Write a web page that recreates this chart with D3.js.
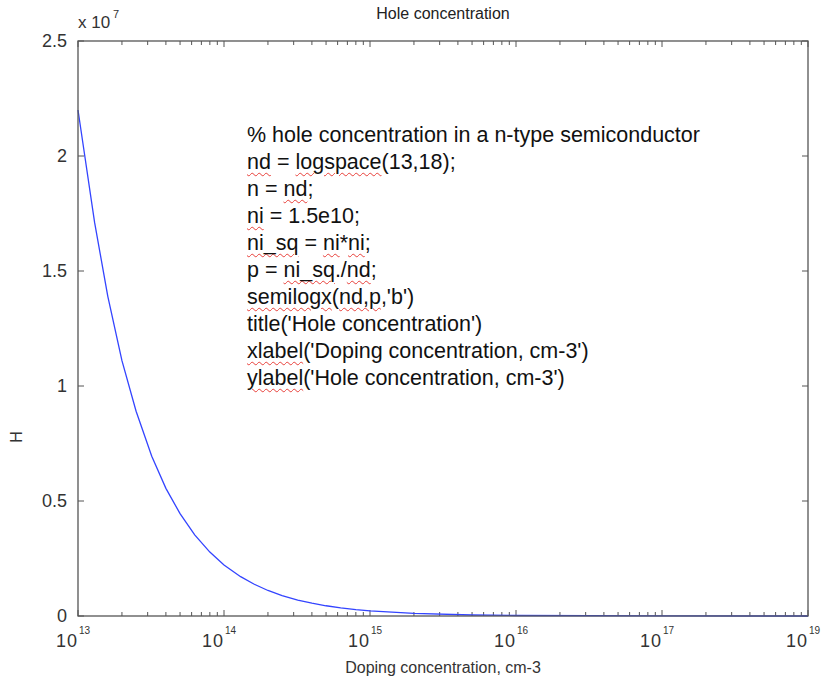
<!DOCTYPE html>
<html>
<head>
<meta charset="utf-8">
<script src="https://cdn.jsdelivr.net/npm/d3@7"></script>
<style>
  body { margin: 0; background: #fff; }
  #wrap { position: relative; width: 825px; height: 688px; }
  svg { position: absolute; left: 0; top: 0; font-family: "Liberation Sans", Arial, sans-serif; }
  #code {
    position: absolute; left: 247px; top: 122px;
    font-family: "Liberation Sans", Arial, sans-serif;
    font-size: 21.5px; line-height: 27px; color: #111; white-space: pre;
  }
  #code .sp { text-decoration: underline wavy #e8403a; text-decoration-thickness: 1px; text-underline-offset: 3px; }
</style>
</head>
<body>
<div id="wrap">
<svg id="chart"></svg>
<div id="code"></div>
</div>
<script>
const outerWidth = 825;
const outerHeight = 688;
const margin = { top: 41, right: 17, bottom: 72, left: 78 };
const width = outerWidth - margin.left - margin.right;
const height = outerHeight - margin.top - margin.bottom;

// values (doping, cm-3 -> holes, cm-3)
const dopingValues = [1e13, 1.3e13, 1.6e13, 2e13, 2.5e13, 3.2e13, 4e13, 5e13, 6.3e13, 8e13,
    1e14, 1.3e14, 1.6e14, 2e14, 2.5e14, 3.2e14, 4e14, 5e14, 6.3e14, 8e14,
    1e15, 2e15, 5e15, 1e16, 1e17, 1e18];
const holeValues = [2.2e7, 1.71e7, 1.39e7, 1.11e7, 8.9e6, 6.95e6, 5.55e6, 4.45e6, 3.53e6, 2.78e6,
    2.22e6, 1.71e6, 1.39e6, 1.11e6, 8.9e5, 6.95e5, 5.55e5, 4.45e5, 3.55e5, 2.78e5,
    2.22e5, 1.1e5, 4.4e4, 2.2e4, 2.0e3, 2.0e2];

const xDecades = [1e13, 1e14, 1e15, 1e16, 1e17, 1e18];
const xTickExponents = ["13", "14", "15", "16", "17", "19"];
const yTicks = [0, 0.5e7, 1e7, 1.5e7, 2e7, 2.5e7];
const yTickLabels = ["0", "0.5", "1", "1.5", "2", "2.5"];

const codeLines = [
    [["% hole concentration in a n-type semiconductor", 0]],
    [["nd", 1], [" = ", 0], ["logspace", 1], ["(13,18);", 0]],
    [["n = ", 0], ["nd", 1], [";", 0]],
    [["ni", 1], [" = 1.5e10;", 0]],
    [["ni_sq", 1], [" = ", 0], ["ni", 1], ["*", 0], ["ni", 1], [";", 0]],
    [["p = ", 0], ["ni_sq", 1], ["./", 0], ["nd", 1], [";", 0]],
    [["semilogx", 1], ["(", 0], ["nd,p", 1], [",'b')", 0]],
    [["title('Hole concentration')", 0]],
    [["xlabel", 1], ["('Doping concentration, cm-3')", 0]],
    [["ylabel", 1], ["('Hole concentration, cm-3')", 0]]
];

const data = dopingValues.map((d, i) => ({ nd: d, p: holeValues[i] }));

const svg0 = d3.select("#chart")
    .attr("width", outerWidth)
    .attr("height", outerHeight);

const svg = svg0.append("g")
    .attr("transform", `translate(${margin.left},${margin.top})`);

const x = d3.scaleLog().domain([1e13, 1e18]).range([0, width]);
const y = d3.scaleLinear().domain([0, 2.5e7]).range([height, 0]);

const axisColor = "#555";
const textColor = "#333";

// minor ticks 2..9 per decade
const minorTicks = [];
xDecades.slice(0, -1).forEach(d => {
    for (let k = 2; k <= 9; k++) minorTicks.push(d * k);
});

// ticks, inward, on bottom and top
const ticks = svg.append("g").attr("stroke", axisColor).attr("stroke-width", 1);
[height, 0].forEach(base => {
    const dir = base === 0 ? 1 : -1;
    ticks.selectAll(null).data(xDecades).enter().append("line")
        .attr("x1", d => x(d)).attr("x2", d => x(d))
        .attr("y1", base).attr("y2", base + dir * 6);
    ticks.selectAll(null).data(minorTicks).enter().append("line")
        .attr("x1", d => x(d)).attr("x2", d => x(d))
        .attr("y1", base).attr("y2", base + dir * 4);
});
[0, width].forEach(base => {
    const dir = base === 0 ? 1 : -1;
    ticks.selectAll(null).data(yTicks).enter().append("line")
        .attr("x1", base).attr("x2", base + dir * 6)
        .attr("y1", d => y(d)).attr("y2", d => y(d));
});

// curve
svg.append("path")
    .datum(data)
    .attr("fill", "none")
    .attr("stroke", "#3344ff")
    .attr("stroke-width", 1.3)
    .attr("d", d3.line().x(d => x(d.nd)).y(d => y(d.p)));

// box
svg.append("rect")
    .attr("width", width)
    .attr("height", height)
    .attr("fill", "none")
    .attr("stroke", axisColor)
    .attr("stroke-width", 1.3);

// y tick labels
svg.selectAll(".ylab").data(yTicks).enter().append("text")
    .attr("class", "ylab")
    .attr("x", -11)
    .attr("y", d => y(d) + 6)
    .attr("text-anchor", "end")
    .attr("fill", textColor)
    .style("font-size", "18px")
    .text((d, i) => yTickLabels[i]);

// x tick labels 10^n
const xl = svg.selectAll(".xlab").data(xDecades).enter().append("g")
    .attr("class", "xlab")
    .attr("transform", d => `translate(${x(d)},${height + 31})`);
xl.append("text")
    .attr("text-anchor", "end")
    .attr("fill", textColor)
    .style("font-size", "18px")
    .style("letter-spacing", "1px")
    .text("10");
xl.append("text")
    .attr("x", 1)
    .attr("y", -13)
    .attr("fill", textColor)
    .style("font-size", "10px")
    .text((d, i) => xTickExponents[i]);

// exponent label
const ex = svg.append("g").attr("transform", "translate(0,-13)");
ex.append("text")
    .attr("fill", textColor)
    .style("font-size", "17px")
    .text("x 10");
ex.append("text")
    .attr("x", 35)
    .attr("y", -10)
    .attr("fill", textColor)
    .style("font-size", "11px")
    .text("7");

// title and labels
svg.append("text")
    .attr("x", width / 2)
    .attr("y", -22)
    .attr("text-anchor", "middle")
    .attr("fill", "#222")
    .style("font-size", "16px")
    .text("Hole concentration");

svg.append("text")
    .attr("x", width / 2)
    .attr("y", height + 57)
    .attr("text-anchor", "middle")
    .attr("fill", textColor)
    .style("font-size", "16px")
    .text("Doping concentration, cm-3");

svg.append("text")
    .attr("transform", `translate(${-56},${396}) rotate(-90)`)
    .attr("text-anchor", "middle")
    .attr("fill", textColor)
    .style("font-size", "16px")
    .text("H");

// code annotation
const code = d3.select("#code");
codeLines.forEach(line => {
    const row = code.append("div");
    line.forEach(([t, sp]) => {
        row.append("span").attr("class", sp ? "sp" : null).text(t);
    });
});
</script>
</body>
</html>
